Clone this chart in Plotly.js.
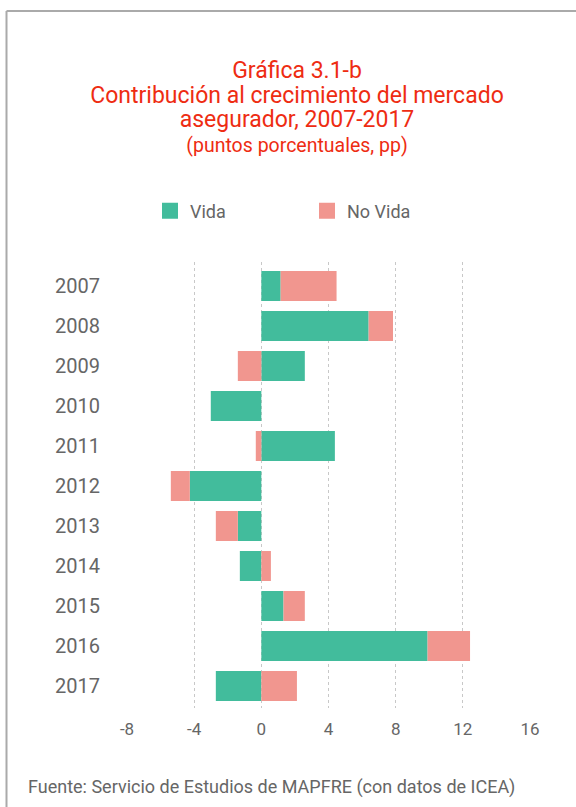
<!DOCTYPE html>
<html>
<head>
<meta charset="utf-8">
<script src="https://cdn.plot.ly/plotly-3.0.1.min.js"></script>
<style>
  html, body { margin: 0; padding: 0; background: #fff; }
  #chart { width: 576px; height: 807px; }
</style>
</head>
<body>
<div id="chart"></div>
<script>
// Data
const years = ['2007','2008','2009','2010','2011','2012','2013','2014','2015','2016','2017'];
const vida = [1.15, 6.39, 2.59, -3.01, 4.38, -4.26, -1.40, -1.28, 1.32, 9.90, -2.71];
const noVida = [3.33, 1.45, -1.40, 0, -0.33, -1.13, -1.31, 0.57, 1.27, 2.53, 2.12];
const xTicks = [-8, -4, 0, 4, 8, 12, 16];
const seriesNames = ['Vida', 'No Vida'];
const titleLines = ['Gráfica 3.1-b', 'Contribución al crecimiento del mercado', 'asegurador, 2007-2017'];
const subtitleLine = '(puntos porcentuales, pp)';

const W = 576, H = 807;
const M = {l: 127, r: 46, t: 262, b: 99};
const pw = W - M.l - M.r, ph = H - M.t - M.b;
const px = v => (v - M.l) / pw;
const py = v => (H - M.b - v) / ph;

const green = '#42BC9C';
const pink = '#F1968F';
const gray = '#666666';
const red = '#EE2C12';
const font = 'Roboto, "DejaVu Sans", sans-serif';

const traces = [
  {type: 'bar', orientation: 'h', name: seriesNames[0], y: years, x: vida, showlegend: false,
   marker: {color: green, line: {width: 0}}},
  {type: 'bar', orientation: 'h', name: seriesNames[1], y: years, x: noVida, showlegend: false,
   marker: {color: pink, line: {width: 0}}},
  // legend entries (large square swatches)
  {type: 'scatter', mode: 'markers', name: seriesNames[0], x: [null], y: [null],
   marker: {symbol: 'square', size: 20, color: green}},
  {type: 'scatter', mode: 'markers', name: seriesNames[1], x: [null], y: [null],
   marker: {symbol: 'square', size: 20, color: pink}}
];

const titleText = titleLines.map(t => '<span style="font-size:23px">' + t + '</span>').join('<br>') +
  '<br><span style="font-size:19.5px">' + subtitleLine + '</span>';

const layout = {
  width: W, height: H,
  margin: M,
  paper_bgcolor: '#fff', plot_bgcolor: '#fff',
  barmode: 'relative',
  bargap: 0.25,
  font: {family: font, color: gray},
  title: {
    text: titleText,
    font: {family: font, size: 19, color: red},
    x: 297 / W, xref: 'container', xanchor: 'center',
    y: 1 - 78 / H, yref: 'container', yanchor: 'top'
  },
  xaxis: {
    range: [-8, 16], tickvals: xTicks, ticktext: xTicks.map(String),
    showgrid: true, gridcolor: '#c8c8c8', griddash: 'dot', gridwidth: 1,
    zeroline: false, showline: false, ticks: '',
    ticklabelstandoff: 9,
    tickfont: {family: font, size: 17, color: gray}, fixedrange: true
  },
  yaxis: {
    type: 'category', range: [10.55, -0.6],
    showgrid: false, zeroline: false, showline: false, ticks: '',
    ticklabelstandoff: 26,
    tickfont: {family: font, size: 20, color: gray}, fixedrange: true
  },
  legend: {
    orientation: 'h', x: px(150), xanchor: 'left', y: py(211), yanchor: 'middle',
    font: {family: font, size: 18, color: gray},
    entrywidth: 112, entrywidthmode: 'pixels', traceorder: 'normal'
  },
  shapes: [
    {type: 'line', xref: 'paper', yref: 'paper', x0: px(6.5), x1: px(577), y0: py(11), y1: py(11),
     line: {color: '#aaaaaa', width: 2}},
    {type: 'line', xref: 'paper', yref: 'paper', x0: px(6.5), x1: px(6.5), y0: py(11), y1: py(808),
     line: {color: '#aaaaaa', width: 2}}
  ],
  annotations: [
    {text: 'Fuente: Servicio de Estudios de MAPFRE (con datos de ICEA)', xref: 'paper', yref: 'paper',
     x: px(26), xanchor: 'left', y: py(787), yanchor: 'middle', showarrow: false,
     font: {family: font, size: 18, color: gray}}
  ]
};

Plotly.newPlot('chart', traces, layout, {displayModeBar: false, staticPlot: true});
</script>
</body>
</html>
